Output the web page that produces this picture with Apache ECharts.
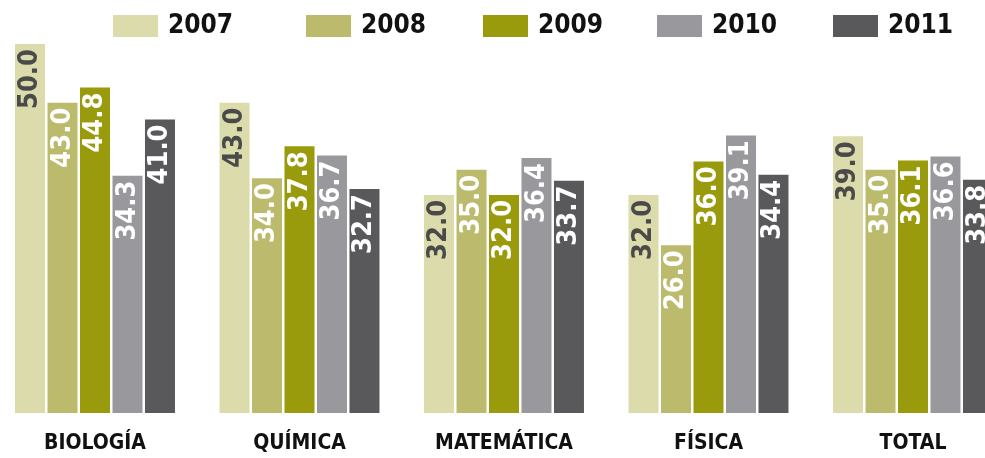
<!DOCTYPE html>
<html>
<head>
<meta charset="utf-8">
<script src="https://cdn.jsdelivr.net/npm/echarts@6/dist/echarts.min.js"></script>
<style>
html,body{margin:0;padding:0;background:#fff;}
#chart{width:985px;height:458px;}
</style>
</head>
<body>
<div id="chart"></div>
<script>
const categories = ['BIOLOGÍA', 'QUÍMICA', 'MATEMÁTICA', 'FÍSICA', 'TOTAL'];
const years = ['2007', '2008', '2009', '2010', '2011'];
const v2007 = [50.0, 43.0, 32.0, 32.0, 39.0];
const v2008 = [43.0, 34.0, 35.0, 26.0, 35.0];
const v2009 = [44.8, 37.8, 32.0, 36.0, 36.1];
const v2010 = [34.3, 36.7, 36.4, 39.1, 36.6];
const v2011 = [41.0, 32.7, 33.7, 34.4, 33.8];
const colors = ['#dbdbab', '#bcbb6d', '#9a9b0c', '#99999d', '#59595b'];
const labelColors = ['#4a4a4a', '#ffffff', '#ffffff', '#ffffff', '#ffffff'];
const legendLeft = [113, 306, 483, 657, 833];

const seriesValues = [v2007, v2008, v2009, v2010, v2011];
const condensed = '"DejaVu Sans Condensed", "DejaVu Sans", sans-serif';
const narrow = '"Liberation Sans Narrow", "DejaVu Sans Condensed", sans-serif';

const chart = echarts.init(document.getElementById('chart'), null, {renderer: 'canvas'});
chart.setOption({
  animation: false,
  backgroundColor: '#ffffff',
  legend: years.map((y, i) => ({
    data: [y],
    left: legendLeft[i],
    top: 13,
    padding: 0,
    itemWidth: 45,
    itemHeight: 22,
    icon: 'rect',
    selectedMode: false,
    textStyle: {
      fontFamily: condensed,
      fontWeight: 'bold',
      fontSize: 26,
      color: '#111111',
      padding: [0, 0, 0, 5]
    }
  })),
  grid: {left: -7.25, right: -30.25, top: 44, bottom: 45, containLabel: false, outerBoundsMode: 'none'},
  xAxis: {
    type: 'category',
    data: categories,
    axisLine: {show: false},
    axisTick: {show: false},
    axisLabel: {
      margin: 20,
      fontFamily: narrow,
      fontWeight: 'bold',
      fontSize: 21,
      color: '#111111'
    }
  },
  yAxis: {
    type: 'value',
    min: 6,
    max: 50,
    show: false,
    splitLine: {show: false}
  },
  series: years.map((y, i) => ({
    name: y,
    type: 'bar',
    data: seriesValues[i],
    barWidth: 30,
    barGap: '8.3%',
    barCategoryGap: '21.8%',
    itemStyle: {color: colors[i]},
    label: {
      show: true,
      position: 'insideTop',
      rotate: 90,
      align: 'right',
      verticalAlign: 'middle',
      distance: 5,
      formatter: p => p.value.toFixed(1),
      fontFamily: condensed,
      fontWeight: 'bold',
      fontSize: 27,
      color: labelColors[i]
    }
  }))
});
</script>
</body>
</html>
